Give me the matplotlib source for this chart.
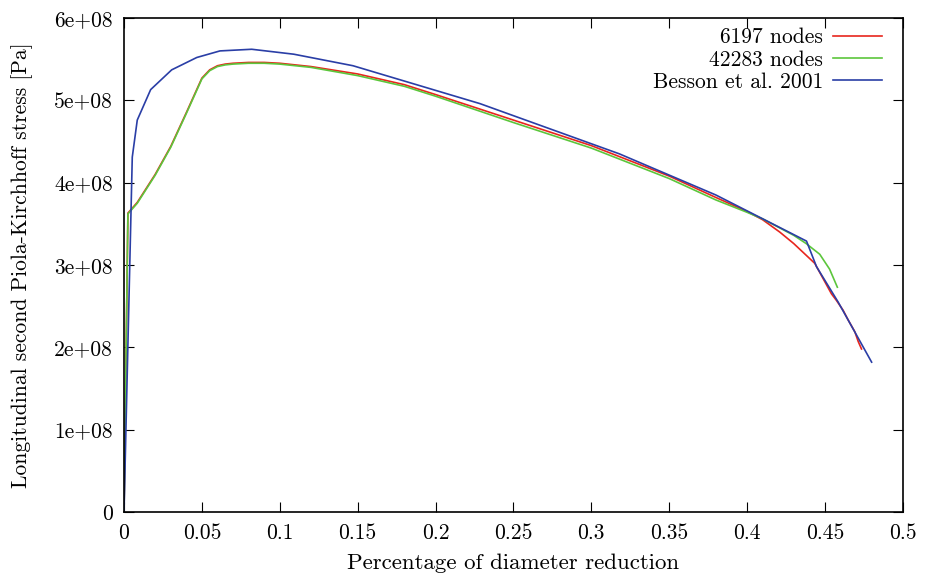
import matplotlib
matplotlib.use("Agg")
import matplotlib.pyplot as plt

# ------------------------------------------------------------
# data (stress in 1e8 Pa)
x_6197 = [0, 0.0025, 0.0085, 0.02, 0.03, 0.04, 0.05, 0.055, 0.06, 0.065, 0.07,
          0.08, 0.09, 0.1, 0.12, 0.15, 0.18, 0.2, 0.25, 0.3, 0.35, 0.38, 0.4,
          0.41, 0.421, 0.43, 0.4435, 0.4542, 0.4574, 0.4617, 0.465, 0.4692,
          0.4714, 0.4735]
y_6197 = [0, 3.63, 3.76, 4.10, 4.44, 4.85, 5.27, 5.37, 5.42, 5.44, 5.45,
          5.46, 5.46, 5.45, 5.41, 5.32, 5.19, 5.07, 4.76, 4.45, 4.08, 3.82, 3.65,
          3.55, 3.40, 3.26, 3.02, 2.65, 2.57, 2.45, 2.33, 2.19,
          2.07, 1.98]

x_42283 = [0, 0.0025, 0.0085, 0.02, 0.03, 0.04, 0.05, 0.055, 0.06, 0.065, 0.07,
           0.08, 0.09, 0.1, 0.12, 0.15, 0.18, 0.2, 0.25, 0.3, 0.35, 0.38, 0.4,
           0.41, 0.42, 0.43, 0.438, 0.4467, 0.453, 0.458]
y_42283 = [0, 3.62, 3.75, 4.09, 4.43, 4.84, 5.26, 5.36, 5.41, 5.43, 5.44,
           5.45, 5.45, 5.44, 5.40, 5.30, 5.17, 5.05, 4.73, 4.42, 4.05, 3.79, 3.64,
           3.56, 3.46, 3.36, 3.26, 3.13, 2.95, 2.73]

x_besson = [0, 0.0053, 0.0085, 0.0171, 0.0306, 0.0467, 0.0616, 0.082, 0.109,
            0.147, 0.2285, 0.318, 0.38, 0.4382, 0.4446, 0.4585, 0.48]
y_besson = [0, 4.31, 4.76, 5.13, 5.37, 5.52, 5.60, 5.62, 5.56,
            5.42, 4.96, 4.35, 3.85, 3.29, 2.98, 2.55, 1.82]

scale = 1e8
xticks = [0, 0.05, 0.1, 0.15, 0.2, 0.25, 0.3, 0.35, 0.4, 0.45, 0.5]
xtick_labels = ["0", "0.05", "0.1", "0.15", "0.2", "0.25", "0.3", "0.35", "0.4", "0.45", "0.5"]
yticks = [0, 1e8, 2e8, 3e8, 4e8, 5e8, 6e8]
ytick_labels = ["0", "1e+08", "2e+08", "3e+08", "4e+08", "5e+08", "6e+08"]
# ------------------------------------------------------------

plt.rcParams["font.family"] = "serif"
plt.rcParams["font.serif"] = ["cmr10", "DejaVu Serif"]
plt.rcParams["mathtext.fontset"] = "cm"
plt.rcParams["axes.unicode_minus"] = False
plt.rcParams["font.size"] = 15.5

fig = plt.figure(figsize=(9.36, 5.78), dpi=100)
ax = fig.add_axes([0.1325, 0.1142, 0.832, 0.8547])

ax.plot(x_6197, [v * scale for v in y_6197], color="#e8261e", lw=1.2, label="6197 nodes")
ax.plot(x_42283, [v * scale for v in y_42283], color="#5cc63c", lw=1.2, label="42283 nodes")
ax.plot(x_besson, [v * scale for v in y_besson], color="#2a3ea6", lw=1.2, label="Besson et al. 2001")

ax.set_xlim(0, 0.5)
ax.set_ylim(0, 6e8)
ax.set_xticks(xticks)
ax.set_xticklabels(xtick_labels)
ax.set_yticks(yticks)
ax.set_yticklabels(ytick_labels)
ax.tick_params(direction="in", length=7, width=0.8, top=True, right=True, pad=8)
for s in ax.spines.values():
    s.set_linewidth(1.2)

ax.set_xlabel("Percentage of diameter reduction", fontsize=16.5, labelpad=8)
ax.set_ylabel("Longitudinal second Piola-Kirchhoff stress [Pa]", labelpad=15)

ax.legend(loc="upper right", bbox_to_anchor=(0.99, 1.006), frameon=False,
          markerfirst=False, handlelength=2.3, labelspacing=0.12,
          borderaxespad=0.2, handletextpad=0.45)

fig.savefig("out.png", dpi=100)
